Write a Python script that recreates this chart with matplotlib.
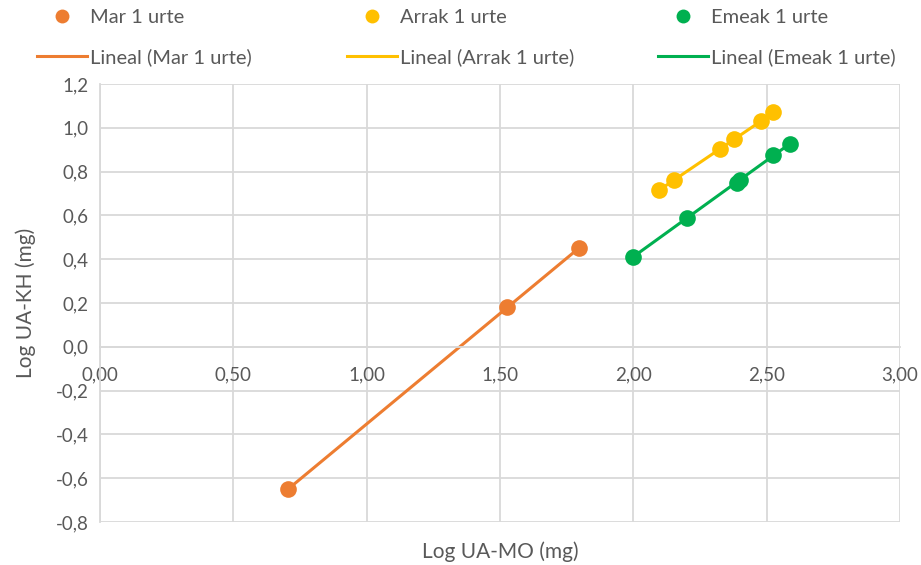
import numpy as np
import matplotlib
matplotlib.use("Agg")
import matplotlib.pyplot as plt
from matplotlib.ticker import FuncFormatter, MultipleLocator
from matplotlib.lines import Line2D

plt.rcParams['font.family'] = ['Lato', 'DejaVu Sans']

# log values per group
mar_x = [0.706, 1.527, 1.797]
mar_y = [-0.650, 0.183, 0.449]
arrak_x = [2.096, 2.153, 2.325, 2.378, 2.480, 2.525]
arrak_y = [0.716, 0.761, 0.901, 0.950, 1.029, 1.071]
emeak_x = [2.000, 2.201, 2.390, 2.400, 2.525, 2.587]
emeak_y = [0.412, 0.588, 0.750, 0.763, 0.877, 0.926]

names = ["Mar 1 urte", "Arrak 1 urte", "Emeak 1 urte"]
colors = ["#ED7D31", "#FFC000", "#00B050"]
text_col = "#595959"
grid_col = "#D9D9D9"

fig = plt.figure(figsize=(9.21, 5.65), dpi=100)
ax = fig.add_axes([100/921, 1-522/565, 800/921, 438/565])

groups = [(mar_x, mar_y), (arrak_x, arrak_y), (emeak_x, emeak_y)]
for (xs, ys), c in zip(groups, colors):
    xs = np.array(xs)
    ys = np.array(ys)
    k, b = np.polyfit(xs, ys, 1)
    xl = np.array([xs.min(), xs.max()])
    ax.plot(xl, k*xl + b, color=c, lw=2.2, zorder=2)
    ax.plot(xs, ys, 'o', color=c, ms=12, mec='none', zorder=3)

ax.set_xlim(0, 3)
ax.set_ylim(-0.8, 1.2)
ax.xaxis.set_major_locator(MultipleLocator(0.5))
ax.yaxis.set_major_locator(MultipleLocator(0.2))
ax.xaxis.set_major_formatter(FuncFormatter(lambda v, p: f"{v:.2f}".replace('.', ',')))
ax.yaxis.set_major_formatter(FuncFormatter(lambda v, p: f"{v:.1f}".replace('.', ',').replace('-0,0', '0,0')))
ax.grid(True, color=grid_col, lw=1.3, zorder=0)
ax.set_axisbelow(True)

for s in ['top', 'right']:
    ax.spines[s].set_visible(False)
ax.spines['bottom'].set_position(('data', 0))
ax.spines['bottom'].set_color(grid_col)
ax.spines['left'].set_color(grid_col)
ax.spines['bottom'].set_linewidth(1.3)
ax.spines['left'].set_linewidth(1.3)
ax.tick_params(length=0, labelsize=13.5, labelcolor=text_col, pad=8)
ax.tick_params(axis='x', pad=14)

ax.set_xlabel("Log UA-MO (mg)", fontsize=15, color=text_col)
ax.xaxis.set_label_coords(0.5, -0.045)
ax.set_ylabel("Log UA-KH (mg)", fontsize=15, color=text_col)
ax.yaxis.set_label_coords(-0.08, 0.5)

# legend: one block per series, marker row over trendline row
leg_x = [37, 347, 658]
for name, c, lx in zip(names, colors, leg_x):
    handles = [Line2D([], [], ls='none', marker='o', ms=10, color=c, mec='none'),
               Line2D([], [], color=c, lw=2.2)]
    leg = fig.legend(handles, [name, f"Lineal ({name})"], loc='upper left',
                     bbox_to_anchor=(lx/921, 1-9/565), frameon=False, fontsize=14.5,
                     handlelength=2.5, handletextpad=0.15, labelspacing=1.1,
                     borderpad=0, borderaxespad=0)
    for t in leg.get_texts():
        t.set_color(text_col)

fig.savefig("out.png", dpi=100)
